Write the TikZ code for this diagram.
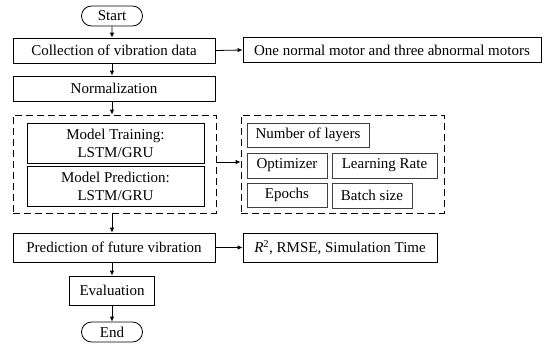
\documentclass[tikz,border=0pt]{standalone}
\usepackage{fontspec}
\setmainfont{Liberation Serif}
\usetikzlibrary{arrows.meta,shapes.misc}
\begin{document}
\begin{tikzpicture}[x=1pt,y=-1pt,
  every node/.style={font=\fontsize{15}{17}\selectfont, inner sep=0pt, line width=0.8pt},
  box/.style={draw, rectangle, minimum height=25pt},
  pill/.style={draw, rounded rectangle, minimum width=61pt, minimum height=20pt},
  sub/.style={draw=black!75, rectangle, line width=0.7pt},
  dbox/.style={draw, dashed, dash pattern=on 7pt off 4pt, line width=0.8pt},
  arr/.style={-{Latex[length=5pt,width=4.5pt]}, line width=0.8pt}]
\useasboundingbox (0,0) rectangle (550,351);
\node[pill] (start) at (112,16) {Start};
\node[box, minimum width=202pt] (coll) at (114,50.5) {Collection of vibration data};
\node[box, minimum width=298pt] (motors) at (392,50) {One normal motor and three abnormal motors};
\node[box, minimum width=202pt] (norm) at (114,88.5) {Normalization};
\node[dbox, minimum width=203pt, minimum height=98pt] (lbox) at (114.5,164) {};
\node[box, minimum width=177pt, minimum height=40pt, align=center, font=\fontsize{15}{18}\selectfont] (train) at (115.5,143) {Model Training:\\LSTM/GRU};
\node[box, minimum width=177pt, minimum height=40pt, align=center, font=\fontsize{15}{18}\selectfont] (pred) at (115.5,186) {Model Prediction:\\LSTM/GRU};
\node[dbox, minimum width=203pt, minimum height=98pt] (rbox) at (342.5,164) {};
\node[sub, minimum width=122pt, minimum height=24pt] (layers) at (308,135) {Number of layers};
\node[sub, minimum width=80pt, minimum height=25pt] (opt) at (287,165.5) {Optimizer};
\node[sub, minimum width=105pt, minimum height=25pt] (lr) at (384.5,165.5) {Learning Rate};
\node[sub, minimum width=80pt, minimum height=24pt] (ep) at (287,195) {Epochs};
\node[sub, minimum width=80pt, minimum height=25pt] (bs) at (372,195.5) {Batch size};
\node[box, minimum width=202pt, minimum height=29pt] (fut) at (114,247.5) {Prediction of future vibration};
\node[box, minimum width=194pt, minimum height=29pt] (metric) at (340,247.5) {{\itshape R}\textsuperscript{2}, RMSE, Simulation Time};
\node[box, minimum width=85pt, minimum height=29pt] (eval) at (112,290.5) {Evaluation};
\node[pill] (end) at (112,332) {End};
\draw[arr] (start) -- (start |- coll.north);
\draw[arr] (coll.east) -- (motors.west);
\draw[arr] (coll.south -| start) -- (start |- norm.north);
\draw[arr] (norm.south -| start) -- (start |- lbox.north);
\draw[arr] (lbox.east |- 0,162) -- (rbox.west |- 0,162);
\draw[arr] (lbox.south -| start) -- (start |- fut.north);
\draw[arr] (fut.east) -- (metric.west);
\draw[arr] (fut.south -| start) -- (start |- eval.north);
\draw[arr] (eval.south -| start) -- (end.north);
\end{tikzpicture}
\end{document}
